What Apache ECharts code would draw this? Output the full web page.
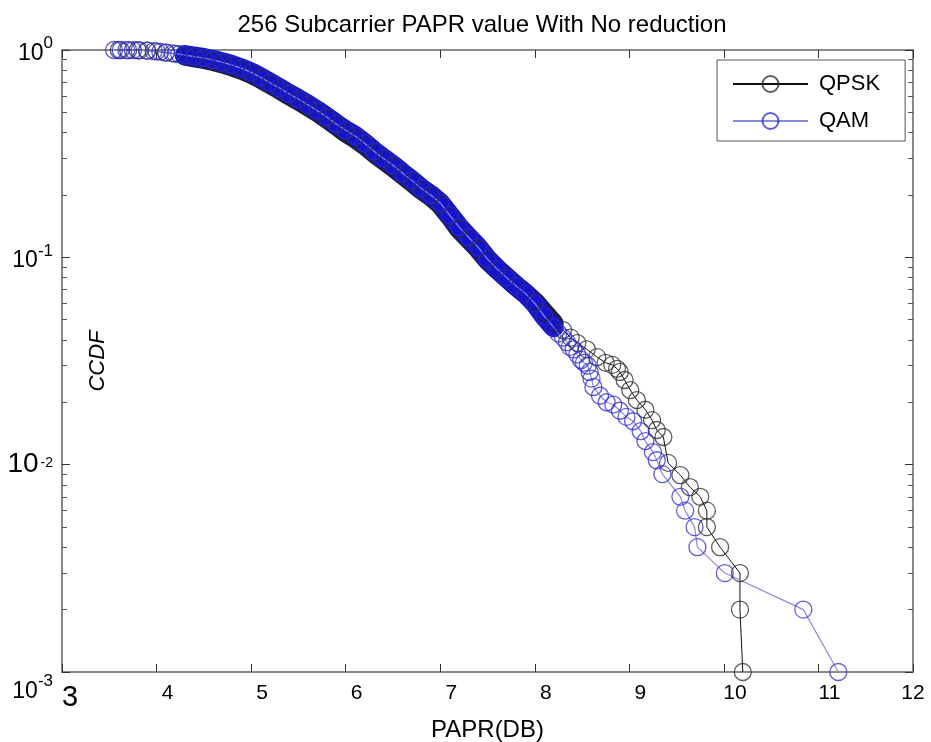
<!DOCTYPE html>
<html>
<head>
<meta charset="utf-8">
<script src="https://cdn.jsdelivr.net/npm/echarts@6/dist/echarts.min.js"></script>
<style>
html,body{margin:0;padding:0;background:#fff;}
#chart{width:931px;height:742px;}
</style>
</head>
<body>
<div id="chart"></div>
<script>
// ---- data ----
const titleText = '256 Subcarrier PAPR value With No reduction';
const xName = 'PAPR(DB)';
const yName = 'CCDF';
const seriesNames = ['QPSK', 'QAM'];
const xTicks = [3, 4, 5, 6, 7, 8, 9, 10, 11, 12];
const yTicks = [1, 0.1, 0.01, 0.001];
const yMinorTicks = [0.002,0.003,0.004,0.005,0.006,0.007,0.008,0.009,
  0.02,0.03,0.04,0.05,0.06,0.07,0.08,0.09,
  0.2,0.3,0.4,0.5,0.6,0.7,0.8,0.9];

// QPSK (black)
const qpskTop = [[3.6,1.0],[3.7,0.999],[3.8,0.997],[3.9,0.993],[4.0,0.985],[4.1,0.972],[4.2,0.958]];
const qpskBand = [[4.3,0.94],[4.4,0.922],[4.5,0.905],[4.6,0.884],[4.7,0.86],[4.8,0.832],[4.9,0.802],[5.0,0.767],[5.1,0.727],[5.2,0.686],[5.3,0.646],[5.4,0.606],[5.5,0.571],[5.6,0.536],[5.7,0.502],[5.8,0.467],[5.9,0.433],[6.0,0.4],[6.1,0.375],[6.2,0.348],[6.3,0.319],[6.4,0.295],[6.5,0.273],[6.6,0.251],[6.7,0.231],[6.8,0.212],[6.9,0.197],[7.0,0.18],[7.1,0.158],[7.2,0.137],[7.3,0.123],[7.4,0.11],[7.5,0.097],[7.6,0.088],[7.7,0.08],[7.8,0.073],[7.9,0.067],[8.0,0.061],[8.1,0.054],[8.2,0.048]];
const qpskTail = [[8.3,0.0446],[8.38,0.041],[8.45,0.0386],[8.55,0.036],[8.66,0.033],[8.75,0.031],[8.82,0.0303],[8.87,0.029],[8.9,0.028],[8.95,0.0256],[9.01,0.0229],[9.08,0.0205],[9.17,0.0184],[9.24,0.0164],[9.29,0.0147],[9.36,0.0136],[9.41,0.0102],[9.54,0.0089],[9.64,0.0078],[9.75,0.007],[9.82,0.006],[9.82,0.005],[9.96,0.004],[10.17,0.003],[10.17,0.002],[10.2,0.001]];

// QAM (blue)
const qamTop = [[3.55,1.0],[3.62,1.0],[3.68,0.999],[3.75,0.998],[3.82,0.996],[3.9,0.992],[3.97,0.988],[4.04,0.98],[4.1,0.972],[4.17,0.964],[4.24,0.955]];
const qamBand = [[4.3,0.945],[4.4,0.93],[4.5,0.915],[4.6,0.895],[4.7,0.872],[4.8,0.845],[4.9,0.815],[5.0,0.78],[5.1,0.738],[5.2,0.695],[5.3,0.655],[5.4,0.615],[5.5,0.58],[5.6,0.545],[5.7,0.51],[5.8,0.475],[5.9,0.44],[6.0,0.41],[6.1,0.385],[6.2,0.355],[6.3,0.325],[6.4,0.3],[6.5,0.278],[6.6,0.255],[6.7,0.235],[6.8,0.215],[6.9,0.2],[7.0,0.183],[7.1,0.16],[7.2,0.14],[7.3,0.125],[7.4,0.112],[7.5,0.098],[7.6,0.088],[7.7,0.08],[7.8,0.073],[7.9,0.067],[8.0,0.06],[8.1,0.052],[8.2,0.046]];
const qamTail = [[8.25,0.043],[8.3,0.041],[8.34,0.039],[8.37,0.037],[8.41,0.036],[8.45,0.034],[8.49,0.032],[8.52,0.031],[8.56,0.03],[8.58,0.028],[8.6,0.026],[8.62,0.0237],[8.69,0.0215],[8.76,0.02],[8.83,0.0195],[8.9,0.0182],[8.97,0.017],[9.04,0.0162],[9.12,0.0145],[9.17,0.013],[9.25,0.0115],[9.29,0.0105],[9.35,0.009],[9.54,0.007],[9.59,0.006],[9.69,0.005],[9.72,0.004],[10.01,0.003],[10.84,0.002],[11.21,0.001]];

// ---- chart ----
const FONT = '"Liberation Sans", Arial, Helvetica, sans-serif';
const chart = echarts.init(document.getElementById('chart'), null, {renderer: 'canvas'});

const axisLineStyle = {color: '#8a8a8a', width: 2};
const tickStyle = {color: '#333', width: 1};

function xLabel(v) {
  if (v === xTicks[0]) return '{big|' + v + '}';
  if (v === xTicks[xTicks.length - 1]) return '{end|' + v + '}';
  return '{n|' + v + '}';
}
function yLabel(v) {
  const e = Math.round(Math.log10(v));
  if (e === -2) return '{c|10}{t|' + e + '}';
  if (e === -3) return '{e| }\n{b|10}{s|' + e + '}';
  return '{b|10}{s|' + e + '}';
}

const option = {
  backgroundColor: '#fff',
  animation: false,
  title: {
    text: titleText,
    left: 477, top: 8, textAlign: 'center',
    textStyle: {fontFamily: FONT, fontSize: 24, fontWeight: 'normal', color: '#000'}
  },
  legend: {
    data: seriesNames,
    orient: 'vertical',
    left: 717, top: 60,
    padding: [13, 25, 9, 15],
    itemWidth: 75, itemHeight: 20, itemGap: 15,
    borderColor: '#555', borderWidth: 1, backgroundColor: '#fff',
    textStyle: {fontFamily: FONT, fontSize: 22, color: '#000', padding: [0, 0, 0, 6]}
  },
  grid: {left: 62, right: 18, top: 50, bottom: 70, containLabel: false, outerBoundsMode: 'none'},
  xAxis: [{
    type: 'value', min: 3, max: 12, interval: 1, position: 'bottom',
    name: xName, nameLocation: 'middle', nameGap: 46,
    nameTextStyle: {fontFamily: FONT, fontSize: 24, color: '#000'},
    axisLine: {show: true, onZero: false, lineStyle: axisLineStyle},
    axisTick: {show: true, inside: true, length: 8, lineStyle: tickStyle},
    splitLine: {show: false},
    axisLabel: {
      margin: 11, formatter: xLabel, color: '#000',
      rich: {
        n: {fontFamily: FONT, fontSize: 21, color: '#000', padding: [0, 0, 0, 22]},
        big: {fontFamily: FONT, fontSize: 29, color: '#000', padding: [0, 0, 0, 16]},
        end: {fontFamily: FONT, fontSize: 21, color: '#000'}
      }
    }
  }, {
    type: 'value', min: 3, max: 12, interval: 1, position: 'top',
    axisLine: {show: true, onZero: false, lineStyle: axisLineStyle},
    axisTick: {show: true, inside: true, length: 8, lineStyle: tickStyle},
    axisLabel: {show: false}, splitLine: {show: false}
  }],
  yAxis: [{
    type: 'log', logBase: 10, min: 0.001, max: 1, position: 'left',
    name: yName, nameLocation: 'middle', nameRotate: 90, nameGap: -47,
    nameTextStyle: {fontFamily: FONT, fontSize: 22, fontStyle: 'italic', color: '#000'},
    axisLine: {show: true, onZero: false, lineStyle: axisLineStyle},
    axisTick: {show: true, inside: true, length: 8, lineStyle: tickStyle},
    splitLine: {show: false},
    axisLabel: {
      margin: 9, formatter: yLabel, color: '#000',
      rich: {
        b: {fontFamily: FONT, fontSize: 23, color: '#000', lineHeight: 30, verticalAlign: 'bottom'},
        s: {fontFamily: FONT, fontSize: 17, color: '#000', lineHeight: 30, verticalAlign: 'top'},
        c: {fontFamily: FONT, fontSize: 28, color: '#000', lineHeight: 30, verticalAlign: 'middle'},
        t: {fontFamily: FONT, fontSize: 14, color: '#000', lineHeight: 30, verticalAlign: 'middle', padding: [0, 0, 4, 2]},
        e: {fontSize: 10, lineHeight: 32}
      }
    }
  }, {
    type: 'log', logBase: 10, min: 0.001, max: 1, position: 'right',
    axisLine: {show: true, onZero: false, lineStyle: axisLineStyle},
    axisTick: {show: true, inside: true, length: 8, lineStyle: tickStyle},
    axisLabel: {show: false}, splitLine: {show: false}
  }, {
    type: 'log', logBase: 10, min: 0.001, max: 1, position: 'left',
    axisLine: {show: false},
    axisTick: {show: true, inside: true, length: 5, lineStyle: {color: '#555', width: 1}, customValues: yMinorTicks},
    axisLabel: {show: false}, splitLine: {show: false}
  }, {
    type: 'log', logBase: 10, min: 0.001, max: 1, position: 'right',
    axisLine: {show: false},
    axisTick: {show: true, inside: true, length: 5, lineStyle: {color: '#555', width: 1}, customValues: yMinorTicks},
    axisLabel: {show: false}, splitLine: {show: false}
  }],
  series: [
    {
      name: 'QPSK band', type: 'line', data: qpskBand, xAxisIndex: 0, yAxisIndex: 0,
      showSymbol: false, clip: false, silent: true,
      lineStyle: {color: '#1c1c2a', width: 20, cap: 'round', join: 'round'}
    },
    {
      name: 'QPSK', type: 'line', data: qpskTop.concat(qpskBand, qpskTail), xAxisIndex: 0, yAxisIndex: 0,
      symbol: 'circle', symbolSize: 17, showSymbol: true, clip: false,
      itemStyle: {color: 'rgba(0,0,0,0)', borderColor: 'rgba(40,40,40,0.75)', borderWidth: 1.3},
      lineStyle: {color: '#111', width: 1}
    },
    {
      name: 'QAM band', type: 'line', data: qamBand, xAxisIndex: 0, yAxisIndex: 0,
      showSymbol: false, clip: false, silent: true,
      lineStyle: {color: '#1414cf', width: 20, cap: 'round', join: 'round'}
    },
    {
      name: 'QAM', type: 'line', data: qamTop.concat(qamBand, qamTail), xAxisIndex: 0, yAxisIndex: 0,
      symbol: 'circle', symbolSize: 17, showSymbol: true, clip: false,
      itemStyle: {color: 'rgba(0,0,0,0)', borderColor: 'rgba(40,40,210,0.75)', borderWidth: 1.3},
      lineStyle: {color: '#8a8ae0', width: 1.2}
    }
  ]
};
chart.setOption(option);
</script>
</body>
</html>
